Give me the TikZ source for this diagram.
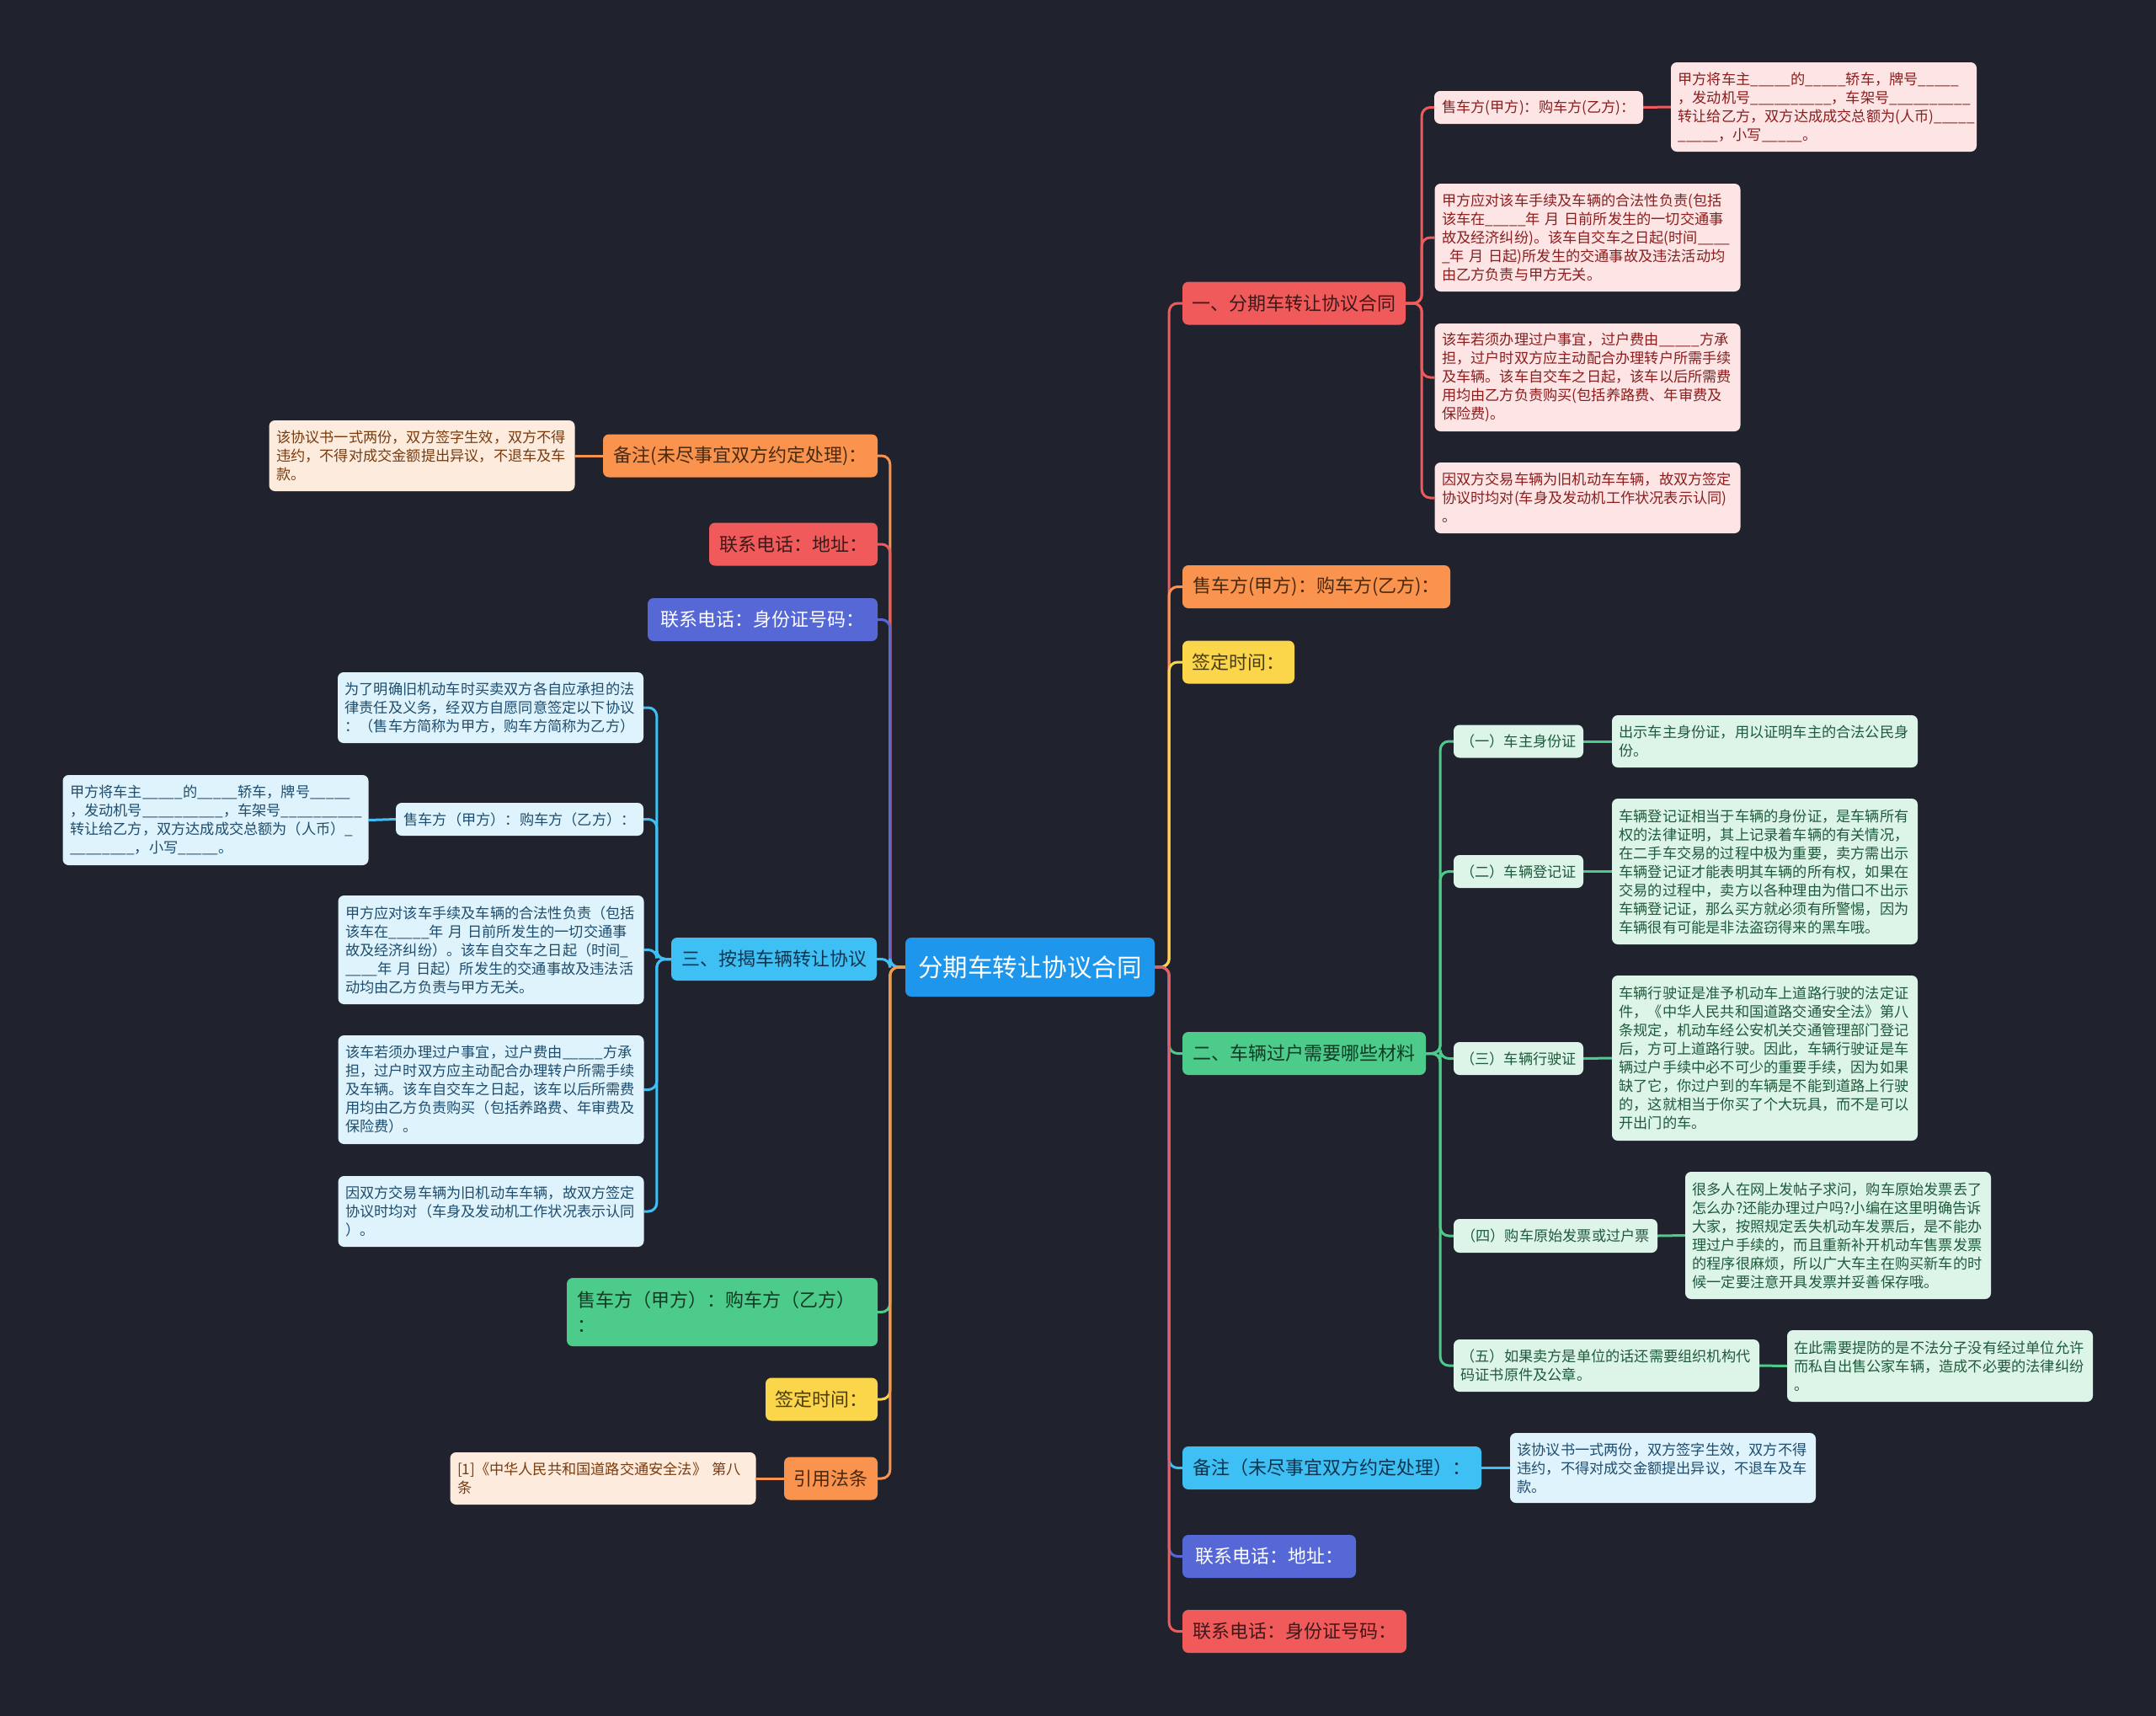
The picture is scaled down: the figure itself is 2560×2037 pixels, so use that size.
\documentclass[tikz,border=0pt]{standalone}
\usepackage{fontspec}
\setmainfont{Noto Sans CJK SC}
\usetikzlibrary{backgrounds}
\definecolor{bgc}{HTML}{20232D}
\definecolor{rootc}{HTML}{1E96EB}
\definecolor{cR}{HTML}{F05A5A}
\definecolor{cO}{HTML}{F9934E}
\definecolor{cY}{HTML}{FBD54A}
\definecolor{cG}{HTML}{4CCB8B}
\definecolor{cB}{HTML}{3FC0F5}
\definecolor{cP}{HTML}{5667D6}
\definecolor{tR}{HTML}{401818}
\definecolor{tO}{HTML}{4A2A10}
\definecolor{tY}{HTML}{4A3D10}
\definecolor{tG}{HTML}{123A25}
\definecolor{tB}{HTML}{0E3550}
\definecolor{pkF}{HTML}{FDE5E5}
\definecolor{pkT}{HTML}{8B1E1E}
\definecolor{gnF}{HTML}{DDF5E8}
\definecolor{gnT}{HTML}{1F5A3C}
\definecolor{blF}{HTML}{DEF3FC}
\definecolor{blT}{HTML}{1F4D6E}
\definecolor{peF}{HTML}{FDEBDD}
\definecolor{peT}{HTML}{7A3B0E}
\newcommand\bk{\_\_\_\_\_}
\newcommand\bkk{\bk\bk}
\tikzset{
  base/.style={rounded corners=7pt, inner sep=0pt},
  rootbox/.style={base, fill=rootc, text=white, font=\fontsize{29.5}{34}\selectfont},
  br/.style={base, minimum height=51pt, font=\fontsize{22}{30}\selectfont},
  brtwo/.style={base, inner xsep=12pt, text width=345pt, align=left, font=\fontsize{22}{30}\selectfont},
  leaf/.style={base, inner xsep=8.5pt, text width=346pt, align=left, font=\fontsize{17.2}{22}\selectfont},
  sm/.style={base, minimum height=39pt, font=\fontsize{17.2}{22}\selectfont},
  pk/.style={fill=pkF, text=pkT},
  gn/.style={fill=gnF, text=gnT},
  bl/.style={fill=blF, text=blT},
  pe/.style={fill=peF, text=peT},
  e/.style={line width=3pt, rounded corners=10pt},
}
\begin{document}
\begin{tikzpicture}[x=1pt,y=-1pt]
% root
\node[rootbox, minimum width=296pt, minimum height=70pt] (root) at (1223,1148) {分期车转让协议合同};

% right branches
\node[br, fill=cR, text=tR, minimum width=265pt] (b1) at (1536.5,360) {一、分期车转让协议合同};
\node[br, fill=cO, text=tO, minimum width=318pt] (b2) at (1563,696.5) {售车方(甲方)：购车方(乙方)：};
\node[br, fill=cY, text=tY, minimum width=133pt] (b3) at (1470.5,786) {签定时间：};
\node[br, fill=cG, text=tG, minimum width=289pt] (b4) at (1548.5,1250.5) {二、车辆过户需要哪些材料};
\node[br, fill=cB, text=tB, minimum width=355pt] (b5) at (1581.5,1742.5) {备注（未尽事宜双方约定处理）：};
\node[br, fill=cP, text=white, minimum width=206pt] (b6) at (1507,1847.5) {联系电话：地址：};
\node[br, fill=cR, text=tR, minimum width=266pt] (b7) at (1537,1936.5) {联系电话：身份证号码：};

% b1 children
\node[sm, pk, minimum width=248pt] (c1a) at (1827,127.5) {售车方(甲方)：购车方(乙方)：};
\node[leaf, pk, minimum height=106pt] (c1a1) at (2165.5,127) {甲方将车主\bk 的\bk 轿车，牌号\bk\\，发动机号\bkk ，车架号\bkk\\转让给乙方，双方达成成交总额为(人币)\bk\\\bk ，小写\bk 。};
\node[leaf, pk, minimum height=128pt] (c1b) at (1885,282) {甲方应对该车手续及车辆的合法性负责(包括\\该车在\bk 年~月~日前所发生的一切交通事\\故及经济纠纷)。该车自交车之日起(时间\_\_\_\_\\\_年~月~日起)所发生的交通事故及违法活动均\\由乙方负责与甲方无关。};
\node[leaf, pk, minimum height=128pt] (c1c) at (1885,448) {该车若须办理过户事宜，过户费由\bk 方承\\担，过户时双方应主动配合办理转户所需手续\\及车辆。该车自交车之日起，该车以后所需费\\用均由乙方负责购买(包括养路费、年审费及\\保险费)。};
\node[leaf, pk, minimum height=84pt] (c1d) at (1885,591) {因双方交易车辆为旧机动车车辆，故双方签定\\协议时均对(车身及发动机工作状况表示认同)\\。};

% b4 children
\node[sm, gn, minimum width=154pt] (c4a) at (1803,880) {（一）车主身份证};
\node[leaf, gn, minimum height=62pt] (c4a1) at (2095.5,880) {出示车主身份证，用以证明车主的合法公民身\\份。};
\node[sm, gn, minimum width=154pt] (c4b) at (1803,1034.5) {（二）车辆登记证};
\node[leaf, gn, minimum height=173pt] (c4b1) at (2095.5,1034.5) {车辆登记证相当于车辆的身份证，是车辆所有\\权的法律证明，其上记录着车辆的有关情况，\\在二手车交易的过程中极为重要，卖方需出示\\车辆登记证才能表明其车辆的所有权，如果在\\交易的过程中，卖方以各种理由为借口不出示\\车辆登记证，那么买方就必须有所警惕，因为\\车辆很有可能是非法盗窃得来的黑车哦。};
\node[sm, gn, minimum width=154pt] (c4c) at (1803,1256.5) {（三）车辆行驶证};
\node[leaf, gn, minimum height=196pt] (c4c1) at (2095.5,1256) {车辆行驶证是准予机动车上道路行驶的法定证\\件，《中华人民共和国道路交通安全法》第八\\条规定，机动车经公安机关交通管理部门登记\\后，方可上道路行驶。因此，车辆行驶证是车\\辆过户手续中必不可少的重要手续，因为如果\\缺了它，你过户到的车辆是不能到道路上行驶\\的，这就相当于你买了个大玩具，而不是可以\\开出门的车。};
\node[sm, gn, minimum width=242pt, minimum height=40pt] (c4d) at (1847,1467) {（四）购车原始发票或过户票};
\node[leaf, gn, minimum height=151pt] (c4d1) at (2182.5,1466.5) {很多人在网上发帖子求问，购车原始发票丢了\\怎么办?还能办理过户吗?小编在这里明确告诉\\大家，按照规定丢失机动车发票后，是不能办\\理过户手续的，而且重新补开机动车售票发票\\的程序很麻烦，所以广大车主在购买新车的时\\候一定要注意开具发票并妥善保存哦。};
\node[leaf, gn, minimum height=62pt] (c4e) at (1907.5,1621) {（五）如果卖方是单位的话还需要组织机构代\\码证书原件及公章。};
\node[leaf, gn, minimum height=85pt] (c4e1) at (2303.5,1621.5) {在此需要提防的是不法分子没有经过单位允许\\而私自出售公家车辆，造成不必要的法律纠纷\\。};

% b5 child
\node[leaf, bl, minimum height=83pt] (c51) at (1974.5,1742.5) {该协议书一式两份，双方签字生效，双方不得\\违约，不得对成交金额提出异议，不退车及车\\款。};

% left branches
\node[br, fill=cO, text=tO, minimum width=326pt] (L1) at (879,541) {备注(未尽事宜双方约定处理)：};
\node[leaf, pe, minimum height=84pt] (L11) at (501,541) {该协议书一式两份，双方签字生效，双方不得\\违约，不得对成交金额提出异议，不退车及车\\款。};
\node[br, fill=cR, text=tR, minimum width=200pt] (L2) at (942,646) {联系电话：地址：};
\node[br, fill=cP, text=white, minimum width=273pt] (L3) at (905.5,735.5) {联系电话：身份证号码：};
\node[br, fill=cB, text=tB, minimum width=244pt] (L4) at (919,1138.5) {三、按揭车辆转让协议};
\node[leaf, bl, minimum height=84pt] (L4a) at (582.5,840) {为了明确旧机动车时买卖双方各自应承担的法\\律责任及义务，经双方自愿同意签定以下协议\\：（售车方简称为甲方，购车方简称为乙方）};
\node[sm, bl, minimum width=294pt] (L4b) at (617,972.5) {售车方（甲方）：购车方（乙方）：};
\node[leaf, bl, minimum height=107pt] (L4b1) at (256,973.5) {甲方将车主\bk 的\bk 轿车，牌号\bk\\，发动机号\bkk ，车架号\bkk\\转让给乙方，双方达成成交总额为（人币）\_\\\_\_\_\_\_\_\_\_，小写\bk 。};
\node[leaf, bl, minimum height=129pt] (L4c) at (583,1127.5) {甲方应对该车手续及车辆的合法性负责（包括\\该车在\bk 年~月~日前所发生的一切交通事\\故及经济纠纷）。该车自交车之日起（时间\_\\\_\_\_\_年~月~日起）所发生的交通事故及违法活\\动均由乙方负责与甲方无关。};
\node[leaf, bl, minimum height=129pt] (L4d) at (583,1293.5) {该车若须办理过户事宜，过户费由\bk 方承\\担，过户时双方应主动配合办理转户所需手续\\及车辆。该车自交车之日起，该车以后所需费\\用均由乙方负责购买（包括养路费、年审费及\\保险费）。};
\node[leaf, bl, minimum height=84pt] (L4e) at (583,1438) {因双方交易车辆为旧机动车车辆，故双方签定\\协议时均对（车身及发动机工作状况表示认同\\）。};
\node[brtwo, fill=cG, text=tG, minimum height=81pt] (L5) at (857.5,1557.5) {售车方（甲方）：购车方（乙方）\\：};
\node[br, fill=cY, text=tY, minimum width=133pt] (L6) at (975.5,1661) {签定时间：};
\node[br, fill=cO, text=tO, minimum width=111pt] (L7) at (986.5,1755) {引用法条};
\node[leaf, pe, minimum height=62pt] (L71) at (716,1755) {[1]《中华人民共和国道路交通安全法》~第八\\条};

\begin{scope}[on background layer]
\fill[bgc] (0,0) rectangle (2560,2037);
% root to right branches
\draw[e, cR] (root.east) -- ++(17,0) |- (b1.west);
\draw[e, cO] (root.east) -- ++(17,0) |- (b2.west);
\draw[e, cY] (root.east) -- ++(17,0) |- (b3.west);
\draw[e, cG] (root.east) -- ++(17,0) |- (b4.west);
\draw[e, cB] (root.east) -- ++(17,0) |- (b5.west);
\draw[e, cP] (root.east) -- ++(17,0) |- (b6.west);
\draw[e, cR] (root.east) -- ++(17,0) |- (b7.west);
% root to left branches
\draw[e, cO] (root.west) -- ++(-18,0) |- (L1.east);
\draw[e, cR] (root.west) -- ++(-18,0) |- (L2.east);
\draw[e, cP] (root.west) -- ++(-18,0) |- (L3.east);
\draw[e, cB] (root.west) -- ++(-18,0) |- (L4.east);
\draw[e, cG] (root.west) -- ++(-18,0) |- (L5.east);
\draw[e, cY] (root.west) -- ++(-18,0) |- (L6.east);
\draw[e, cO] (root.west) -- ++(-18,0) |- (L7.east);
% b1 subtree
\draw[e, cR] (b1.east) -- ++(19,0) |- (c1a.west);
\draw[e, cR] (b1.east) -- ++(19,0) |- (c1b.west);
\draw[e, cR] (b1.east) -- ++(19,0) |- (c1c.west);
\draw[e, cR] (b1.east) -- ++(19,0) |- (c1d.west);
\draw[e, cR] (c1a.east) -- (c1a1.west);
% b4 subtree
\draw[e, cG] (b4.east) -- ++(17,0) |- (c4a.west);
\draw[e, cG] (b4.east) -- ++(17,0) |- (c4b.west);
\draw[e, cG] (b4.east) -- ++(17,0) |- (c4c.west);
\draw[e, cG] (b4.east) -- ++(17,0) |- (c4d.west);
\draw[e, cG] (b4.east) -- ++(17,0) |- (c4e.west);
\draw[e, cG] (c4a.east) -- (c4a1.west);
\draw[e, cG] (c4b.east) -- (c4b1.west);
\draw[e, cG] (c4c.east) -- (c4c1.west);
\draw[e, cG] (c4d.east) -- (c4d1.west);
\draw[e, cG] (c4e.east) -- (c4e1.west);
% b5
\draw[e, cB] (b5.east) -- (c51.west);
% left subtrees
\draw[e, cO] (L1.west) -- (L11.east);
\draw[e, cB] (L4.west) -- ++(-17,0) |- (L4a.east);
\draw[e, cB] (L4.west) -- ++(-17,0) |- (L4b.east);
\draw[e, cB] (L4.west) -- ++(-17,0) |- (L4c.east);
\draw[e, cB] (L4.west) -- ++(-17,0) |- (L4d.east);
\draw[e, cB] (L4.west) -- ++(-17,0) |- (L4e.east);
\draw[e, cB] (L4b.west) -- (L4b1.east);
\draw[e, cO] (L7.west) -- (L71.east);
\end{scope}
\end{tikzpicture}
\end{document}
